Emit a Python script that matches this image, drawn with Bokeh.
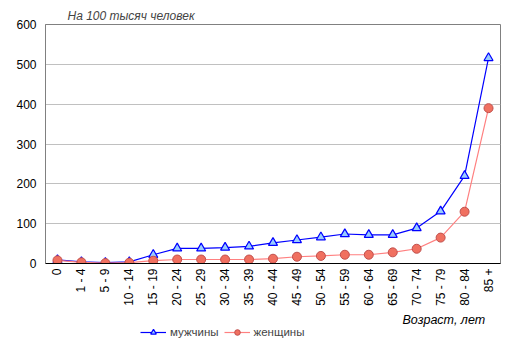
from bokeh.plotting import figure
from bokeh.layouts import column
from bokeh.models import ColumnDataSource, Legend, LegendItem, Label, FactorRange, SingleIntervalTicker
from bokeh.embed import file_html
from bokeh.resources import INLINE

ages = ["0", "1 - 4", "5 - 9", "10 - 14", "15 - 19", "20 - 24", "25 - 29", "30 - 34",
        "35 - 39", "40 - 44", "45 - 49", "50 - 54", "55 - 59", "60 - 64", "65 - 69",
        "70 - 74", "75 - 79", "80 - 84", "85 +"]
men = [9, 4, 2, 4, 22, 38, 38, 40, 43, 52, 59, 66, 74, 72, 72, 89, 131, 220, 516]
women = [8, 3, 1, 2, 7, 10, 10, 10, 10, 12, 17, 19, 22, 22, 28, 37, 65, 130, 390]
series_names = ["мужчины", "женщины"]

FONT = "Liberation Sans"
MEN_STYLE = dict(line=dict(line_color="#0000ff", line_width=1.2),
                 marker=dict(marker="triangle", size=9, fill_color="#99ccff",
                             line_color="#0000ff", line_width=1.2))
WOMEN_STYLE = dict(line=dict(line_color="#ff8080", line_width=1.2),
                   marker=dict(marker="circle", size=9, fill_color="#f07060",
                               line_color="#c0504d", line_width=1))

src = ColumnDataSource(dict(age=ages, men=men, women=women))

p = figure(width=515, height=312, x_range=FactorRange(*ages), y_range=(0, 600),
           output_backend="svg", toolbar_location=None,
           min_border_left=45, min_border_right=15, min_border_top=24, min_border_bottom=49)

p.title.text = "На 100 тысяч человек"
p.title.text_font = FONT
p.title.text_font_style = "italic"
p.title.text_font_size = "12px"
p.title.align = "left"
p.title.offset = 22
p.title.standoff = 4

p.outline_line_color = "#808080"
p.background_fill_color = "white"
p.border_fill_color = "white"

p.xgrid.grid_line_color = None
p.ygrid.grid_line_color = "#c0c0c0"

p.yaxis.ticker = SingleIntervalTicker(interval=100)
p.yaxis.axis_line_color = "#808080"
p.yaxis.major_tick_line_color = None
p.yaxis.minor_tick_line_color = None
p.yaxis.major_tick_out = 0
p.yaxis.major_tick_in = 0
p.yaxis.major_label_text_font = FONT
p.yaxis.major_label_text_font_size = "12px"
p.yaxis.major_label_text_color = "black"
p.yaxis.major_label_standoff = 5

p.xaxis.axis_line_color = "black"
p.xaxis.major_tick_line_color = None
p.xaxis.minor_tick_line_color = None
p.xaxis.major_tick_out = 0
p.xaxis.major_tick_in = 0
p.xaxis.major_label_orientation = 1.5708
p.xaxis.major_label_text_font = FONT
p.xaxis.major_label_text_font_size = "12px"
p.xaxis.major_label_text_color = "black"
p.xaxis.major_label_standoff = 5

p.line("age", "men", source=src, **MEN_STYLE["line"])
p.scatter("age", "men", source=src, **MEN_STYLE["marker"])
p.line("age", "women", source=src, **WOMEN_STYLE["line"])
p.scatter("age", "women", source=src, **WOMEN_STYLE["marker"])

# strip below: axis caption and legend (its frame is aligned with the main frame)
q = figure(width=515, height=40, output_backend="svg", toolbar_location=None,
           x_range=(0, 1), y_range=(0, 1), min_border=0,
           x_axis_location=None, y_axis_location=None)
q.outline_line_color = None
q.grid.grid_line_color = None
q.background_fill_color = "white"
q.border_fill_color = "white"

# legend proxies: a single point placed outside the strip's visible ranges
proxy = ColumnDataSource(dict(x=[-5], y=[-5]))
items = []
for name, st in zip(series_names, [MEN_STYLE, WOMEN_STYLE]):
    rl = q.line("x", "y", source=proxy, **st["line"])
    mk = dict(st["marker"])
    mk["size"] = 6
    rs = q.scatter("x", "y", source=proxy, **mk)
    items.append(LegendItem(label=name, renderers=[rl, rs]))

legend = Legend(items=items, orientation="horizontal", location=(95, 13),
                label_text_font=FONT, label_text_font_size="11.5px",
                glyph_width=26, glyph_height=14, label_standoff=4, spacing=5,
                label_height=14, label_width=10, padding=0, margin=0,
                border_line_color=None, background_fill_alpha=0)
q.add_layout(legend, "center")

xl = Label(x=357, y=26, x_units="screen", y_units="screen", text="Возраст, лет",
           text_font=FONT, text_font_style="italic", text_font_size="12.5px",
           text_color="black")
q.add_layout(xl)

open("out.html", "w").write(file_html(column(p, q), INLINE))
